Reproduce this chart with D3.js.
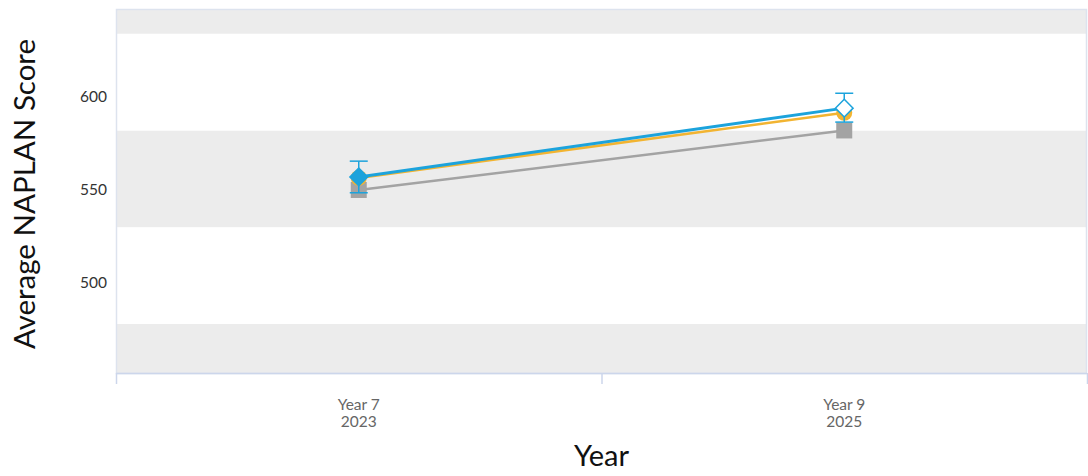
<!DOCTYPE html>
<html>
<head>
<meta charset="utf-8">
<script src="https://cdn.jsdelivr.net/npm/d3@7"></script>
<style>
  body { margin: 0; background: #fff; }
  svg { display: block; font-family: Lato, "Open Sans", sans-serif; }
</style>
</head>
<body>
<svg id="chart" width="1088" height="476"></svg>
<script>
// categories + tick labels
let categories = ["Year 7|2023", "Year 9|2025"];
let yTicks = [500, 550, 600];
let yDomain = [451.6, 647.3];

// NAPLAN band cut points (alternating shading)
let bandEdges = [426, 478, 530, 582, 634, 686];

// series values
let schoolValues = [557, 594];
let schoolLow = [548.5, 586.5];
let schoolHigh = [565.5, 602];
let similarValues = [556.5, 591.5];
let stateValues = [550, 582];

let blueColor = "#1ca3dc";
let orangeColor = "#f2b431";
let greyColor = "#a3a3a3";
let axisColor = "#ccd6eb";

function drawChart(svgId) {
    let svg = d3.select(svgId);
    let left = 116, right = 1087, top = 9, bottom = 373;

    let x = d3.scaleBand()
        .domain(categories)
        .range([left, right]);
    let y = d3.scaleLinear()
        .domain(yDomain)
        .range([bottom, top]);
    let cx = d => x(d) + x.bandwidth() / 2;

    // clip for bands
    svg.append("clipPath").attr("id", "plotClip")
        .append("rect")
        .attr("x", left).attr("y", top)
        .attr("width", right - left).attr("height", bottom - top);

    let bands = [];
    for (let i = 0; i < bandEdges.length - 1; i++) {
        bands.push({from: bandEdges[i], to: bandEdges[i + 1], shade: i % 2 == 0});
    }
    svg.append("g").attr("clip-path", "url(#plotClip)")
        .selectAll("rect")
        .data(bands)
        .enter()
        .append("rect")
            .attr("x", left)
            .attr("width", right - left)
            .attr("y", d => y(d.to))
            .attr("height", d => y(d.from) - y(d.to))
            .style("fill", d => d.shade ? "#ececec" : "#ffffff");

    // plot border (top/left/right)
    svg.append("rect")
        .attr("x", left + 0.5).attr("y", top + 0.5)
        .attr("width", right - left - 1).attr("height", bottom - top)
        .style("fill", "none")
        .style("stroke", "#dde3ee")
        .style("stroke-width", 1.5);

    // x axis
    let xAxis = svg.append("g")
        .attr("transform", "translate(0," + bottom + ")");
    xAxis.append("line")
        .attr("x1", left).attr("x2", right)
        .attr("y1", 0.5).attr("y2", 0.5)
        .style("stroke", axisColor).style("stroke-width", 1.5);
    let tickPos = [left].concat(categories.map(c => x(c) + x.bandwidth()));
    xAxis.selectAll(".xtick")
        .data(tickPos)
        .enter()
        .append("line")
            .attr("x1", d => d + 0.5).attr("x2", d => d + 0.5)
            .attr("y1", 0).attr("y2", 11)
            .style("stroke", axisColor).style("stroke-width", 1.5);

    // two-line category labels, one text per line
    categories.forEach(function (c) {
        c.split("|").forEach(function (part, j) {
            svg.append("text")
                .attr("x", cx(c))
                .attr("y", 410 + j * 16.5)
                .style("text-anchor", "middle")
                .style("font-size", "15.5px")
                .style("fill", "#666666")
                .text(part);
        });
    });

    // y tick labels
    svg.selectAll(".ylabel")
        .data(yTicks)
        .enter()
        .append("text")
            .attr("x", 107)
            .attr("y", d => y(d))
            .attr("dy", "0.35em")
            .style("text-anchor", "end")
            .style("font-size", "15.5px")
            .style("fill", "#333333")
            .text(d => d);

    // axis titles
    svg.append("text")
        .attr("transform", "translate(35," + ((top + bottom) / 2 + 3) + ") rotate(-90)")
        .style("text-anchor", "middle")
        .style("font-size", "29.5px")
        .style("fill", "#111111")
        .text("Average NAPLAN Score");
    svg.append("text")
        .attr("x", (left + right) / 2)
        .attr("y", 466)
        .style("text-anchor", "middle")
        .style("font-size", "29px")
        .style("fill", "#111111")
        .text("Year");

    let line = d3.line()
        .x((d, i) => cx(categories[i]))
        .y(d => y(d));

    // state (grey) series
    svg.append("path")
        .attr("d", line(stateValues))
        .style("fill", "none")
        .style("stroke", greyColor)
        .style("stroke-width", 2.5);
    svg.selectAll(".stateDot")
        .data(stateValues)
        .enter()
        .append("rect")
            .attr("x", (d, i) => cx(categories[i]) - 8)
            .attr("y", d => y(d) - 8)
            .attr("width", 16).attr("height", 16)
            .style("fill", greyColor);

    // similar schools (orange) series
    svg.append("path")
        .attr("d", line(similarValues))
        .style("fill", "none")
        .style("stroke", orangeColor)
        .style("stroke-width", 2.5);
    svg.selectAll(".simDot")
        .data(similarValues)
        .enter()
        .append("circle")
            .attr("cx", (d, i) => cx(categories[i]))
            .attr("cy", d => y(d))
            .attr("r", 8)
            .style("fill", orangeColor);

    // error bars for school
    schoolValues.forEach(function (v, i) {
        let px = cx(categories[i]);
        let g = svg.append("g")
            .style("stroke", blueColor)
            .style("stroke-width", 1.5);
        g.append("line").attr("x1", px).attr("x2", px)
            .attr("y1", y(schoolHigh[i])).attr("y2", y(schoolLow[i]));
        g.append("line").attr("x1", px - 9).attr("x2", px + 9)
            .attr("y1", y(schoolHigh[i])).attr("y2", y(schoolHigh[i]));
        g.append("line").attr("x1", px - 9).attr("x2", px + 9)
            .attr("y1", y(schoolLow[i])).attr("y2", y(schoolLow[i]));
    });

    // school (blue) series
    svg.append("path")
        .attr("d", line(schoolValues))
        .style("fill", "none")
        .style("stroke", blueColor)
        .style("stroke-width", 3);
    let diamond = d3.symbol().type(d3.symbolDiamond2).size(200);
    svg.selectAll(".schoolDot")
        .data(schoolValues)
        .enter()
        .append("path")
            .attr("d", diamond)
            .attr("transform", (d, i) => "translate(" + cx(categories[i]) + "," + y(d) + ")")
            .style("fill", (d, i) => i == 0 ? blueColor : "#ffffff")
            .style("stroke", blueColor)
            .style("stroke-width", 1.5);
}

drawChart("#chart");
</script>
</body>
</html>
